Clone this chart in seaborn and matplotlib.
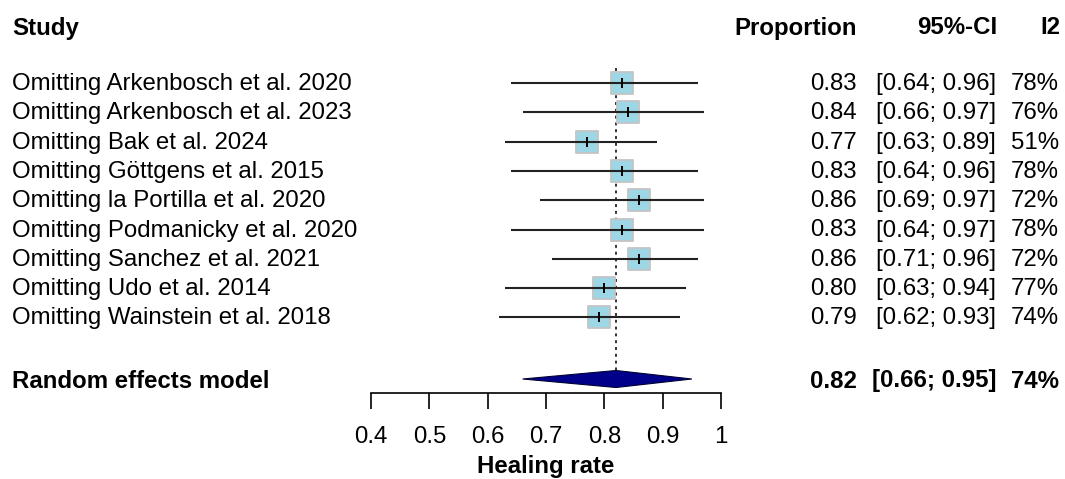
import matplotlib
matplotlib.use("Agg")
import matplotlib.pyplot as plt
import matplotlib.transforms as mtransforms
from matplotlib.patches import Polygon
import seaborn as sns
import pandas as pd

studies = ["Omitting Arkenbosch et al. 2020", "Omitting Arkenbosch et al. 2023",
           "Omitting Bak et al. 2024", "Omitting Göttgens et al. 2015",
           "Omitting la Portilla et al. 2020", "Omitting Podmanicky et al. 2020",
           "Omitting Sanchez et al. 2021", "Omitting Udo et al. 2014",
           "Omitting Wainstein et al. 2018"]
prop = [0.83, 0.84, 0.77, 0.83, 0.86, 0.83, 0.86, 0.80, 0.79]
lower = [0.64, 0.66, 0.63, 0.64, 0.69, 0.64, 0.71, 0.63, 0.62]
upper = [0.96, 0.97, 0.89, 0.96, 0.97, 0.97, 0.96, 0.94, 0.93]
i2 = [78, 76, 51, 78, 72, 78, 72, 77, 74]

re_prop, re_lower, re_upper, re_i2 = 0.82, 0.66, 0.95, 74

xticks = [0.4, 0.5, 0.6, 0.7, 0.8, 0.9, 1.0]
xticklabels = ["0.4", "0.5", "0.6", "0.7", "0.8", "0.9", "1"]

sns.set_theme(style="white")
plt.rcParams['font.family'] = ['Liberation Sans', 'DejaVu Sans']
fs = 17.3

W, H = 1065, 479
fig = plt.figure(figsize=(W / 100, H / 100), dpi=100)
ax = fig.add_axes([371 / W, (H - 393) / H, 350 / W, (393 - 60) / H])
ax.set_xlim(0.4, 1.0)
ax.set_ylim(393, 60)

row_y = [83 + i * 29.3 for i in range(len(studies))]
re_y = 379
df = pd.DataFrame({"study": studies, "prop": prop, "lower": lower, "upper": upper, "y": row_y})

# reference line at pooled estimate
ax.vlines(re_prop, 68, re_y - 9, color="#333333", linestyles=(0, (1.5, 2)), lw=1.4, zorder=1)

# squares, CI lines and point ticks
sns.scatterplot(data=df, x="prop", y="y", marker="s", s=235, color="#9dd6e5",
                edgecolor="#c4c4c4", linewidth=1.3, ax=ax, zorder=2, legend=False)
ax.hlines(df["y"], df["lower"], df["upper"], color="#222222", lw=1.5, zorder=3)
ax.scatter(df["prop"], df["y"], marker="|", s=45, color="black", linewidths=1.4, zorder=4)

# pooled diamond
diamond = Polygon([(re_lower, re_y), (re_prop, re_y - 8.5), (re_upper, re_y), (re_prop, re_y + 8.5)],
                  closed=True, facecolor="#00008b", edgecolor="#000033", lw=0.8, zorder=3)
ax.add_patch(diamond)

# axis styling
for side in ["top", "left", "right"]:
    ax.spines[side].set_visible(False)
ax.spines["bottom"].set_color("black")
ax.spines["bottom"].set_linewidth(1.2)
ax.set_yticks([])
ax.set_xticks(xticks)
ax.set_xticklabels(xticklabels, fontsize=fs)
ax.tick_params(axis="x", bottom=True, length=11.5, width=1.2, color="black", pad=12, labelcolor="black")
ax.set_xlabel("Healing rate", fontsize=fs, fontweight="bold", labelpad=5, color="black")
ax.set_ylabel("")

tr = mtransforms.blended_transform_factory(fig.transFigure, ax.transData)

def put(x, y, s, ha="left", bold=False):
    ax.text(x / W, y, s, transform=tr, ha=ha, va="center", fontsize=fs,
            fontweight="bold" if bold else "normal", color="black", clip_on=False)

header_y = 28
put(12, header_y, "Study", bold=True)
put(857, header_y, "Proportion", ha="right", bold=True)
put(997, header_y, "95%-CI", ha="right", bold=True)
put(1060, header_y, "I2", ha="right", bold=True)

for s, p, lo, up, h, y in zip(studies, prop, lower, upper, i2, row_y):
    put(12, y + 1, s)
    put(857, y + 1, f"{p:.2f}", ha="right")
    put(996, y + 1, f"[{lo:.2f}; {up:.2f}]", ha="right")
    put(1059, y + 1, f"{h}%", ha="right")

put(12, re_y + 2, "Random effects model", bold=True)
put(857, re_y + 2, f"{re_prop:.2f}", ha="right", bold=True)
put(996, re_y + 2, f"[{re_lower:.2f}; {re_upper:.2f}]", ha="right", bold=True)
put(1059, re_y + 2, f"{re_i2}%", ha="right", bold=True)

fig.savefig("out.png", dpi=100)
